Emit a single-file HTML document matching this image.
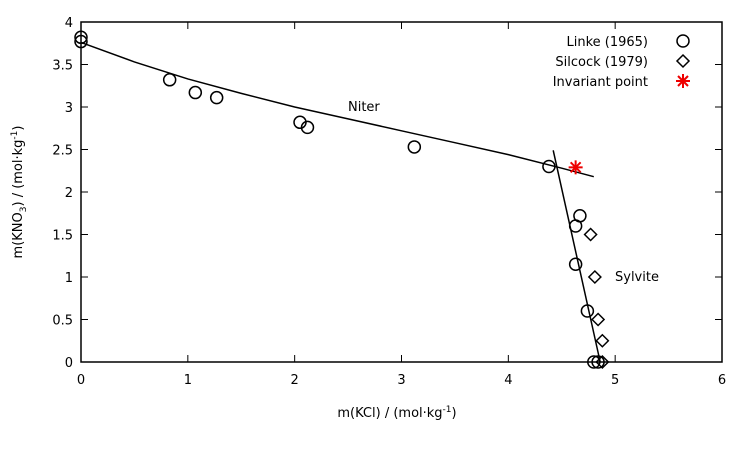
<!DOCTYPE html>
<html><head><meta charset="utf-8"><style>
body{margin:0;background:#fff}
svg text{font-family:"DejaVu Sans","Liberation Sans",sans-serif;font-size:13px;fill:#000}
</style></head><body>
<svg id="c" width="750" height="450">
</svg>
<script>
const xTicks=[0,1,2,3,4,5,6];
const yTicks=[0,0.5,1,1.5,2,2.5,3,3.5,4];
const yTickLabels=["0","0.5","1","1.5","2","2.5","3","3.5","4"];
const linkeX=[0,0,0.83,1.07,1.27,2.05,2.12,3.12,4.38,4.67,4.63,4.63,4.74,4.80,4.84];
const linkeY=[3.82,3.77,3.32,3.17,3.11,2.82,2.76,2.53,2.30,1.72,1.60,1.15,0.60,0,0];
const silX=[4.77,4.81,4.84,4.88,4.88];
const silY=[1.50,1.00,0.50,0.25,0];
const invX=[4.63];const invY=[2.29];
const niterX=[0,0.5,1,1.5,2,2.5,3,3.5,4,4.5,4.8];
const niterY=[3.76,3.53,3.33,3.16,3.00,2.86,2.72,2.58,2.44,2.28,2.18];
const sylX=[4.42,4.86];const sylY=[2.49,0];
const L=81,R=722,T=22,B=362;
const X=v=>L+(v/6)*(R-L), Y=v=>B-(v/4)*(B-T);
const s=document.getElementById('c');const NS='http://www.w3.org/2000/svg';
function mk(t,a,p){const e=document.createElementNS(NS,t);for(const k in a)e.setAttribute(k,a[k]);(p||s).appendChild(e);return e;}
const frame=mk('rect',{x:L,y:T,width:R-L,height:B-T,fill:'none',stroke:'#000','stroke-width':1.5});


xTicks.forEach(v=>{
 const g=mk('g',{});
 
 
 mk('line',{x1:X(v),x2:X(v),y1:B,y2:B-7,stroke:'#000'},g);
 mk('line',{x1:X(v),x2:X(v),y1:T,y2:T+7,stroke:'#000'},g);
 const t=mk('text',{x:X(v),y:B+22,'text-anchor':'middle'},g);t.textContent=v;
});
yTicks.forEach((v,i)=>{
 const g=mk('g',{});
 
 
 mk('line',{x1:L,x2:L+7,y1:Y(v),y2:Y(v),stroke:'#000'},g);
 mk('line',{x1:R,x2:R-7,y1:Y(v),y2:Y(v),stroke:'#000'},g);
 const t=mk('text',{x:L-8,y:Y(v)+5,'text-anchor':'end'},g);t.textContent=yTickLabels[i];
});
const nl=mk('polyline',{points:niterX.map((x,i)=>X(x)+','+Y(niterY[i])).join(' '),fill:'none',stroke:'#000','stroke-width':1.5});


const sl=mk('polyline',{points:sylX.map((x,i)=>X(x)+','+Y(sylY[i])).join(' '),fill:'none',stroke:'#000','stroke-width':1.5});


function circ(cx,cy){return mk('circle',{cx,cy,r:6,fill:'none',stroke:'#000','stroke-width':1.5});}
function dia(cx,cy){return mk('polygon',{points:`${cx},${cy-6} ${cx+6},${cy} ${cx},${cy+6} ${cx-6},${cy}`,fill:'none',stroke:'#000','stroke-width':1.5});}
function star(cx,cy){const g=mk('g',{stroke:'#e00','stroke-width':2});[[-7,0,7,0],[0,-7,0,7],[-5,-5,5,5],[-5,5,5,-5]].forEach(d=>mk('line',{x1:cx+d[0],y1:cy+d[1],x2:cx+d[2],y2:cy+d[3]},g));return g;}
linkeX.forEach((x,i)=>{const e=circ(X(x),Y(linkeY[i]));
 
 });
silX.forEach((x,i)=>{const e=dia(X(x),Y(silY[i]));
 
 });
invX.forEach((x,i)=>{const e=star(X(x),Y(invY[i]));
 
 });
const lab1=mk('text',{x:348,y:111});lab1.textContent='Niter';


const lab2=mk('text',{x:615,y:281});lab2.textContent='Sylvite';


const leg=[['Linke (1965)',circ],['Silcock (1979)',dia],['Invariant point',star]];
leg.forEach((l,i)=>{const y=41+i*20;
 const t=mk('text',{x:648,y:y+5,'text-anchor':'end'});t.textContent=l[0];
 
 
 const m=l[1](683,y);
 
 
});
const xt=mk('text',{x:397,y:417,'text-anchor':'middle'});xt.innerHTML='m(KCl) / (mol·kg<tspan dy="-5" font-size="9">-1</tspan><tspan dy="5">)</tspan>';


const yt=mk('text',{x:0,y:0,'text-anchor':'middle',transform:'translate(22,192) rotate(-90)'});yt.innerHTML='m(KNO<tspan dy="4" font-size="9">3</tspan><tspan dy="-4">) / (mol·kg</tspan><tspan dy="-5" font-size="9">-1</tspan><tspan dy="5">)</tspan>';


</script>
</body></html>
